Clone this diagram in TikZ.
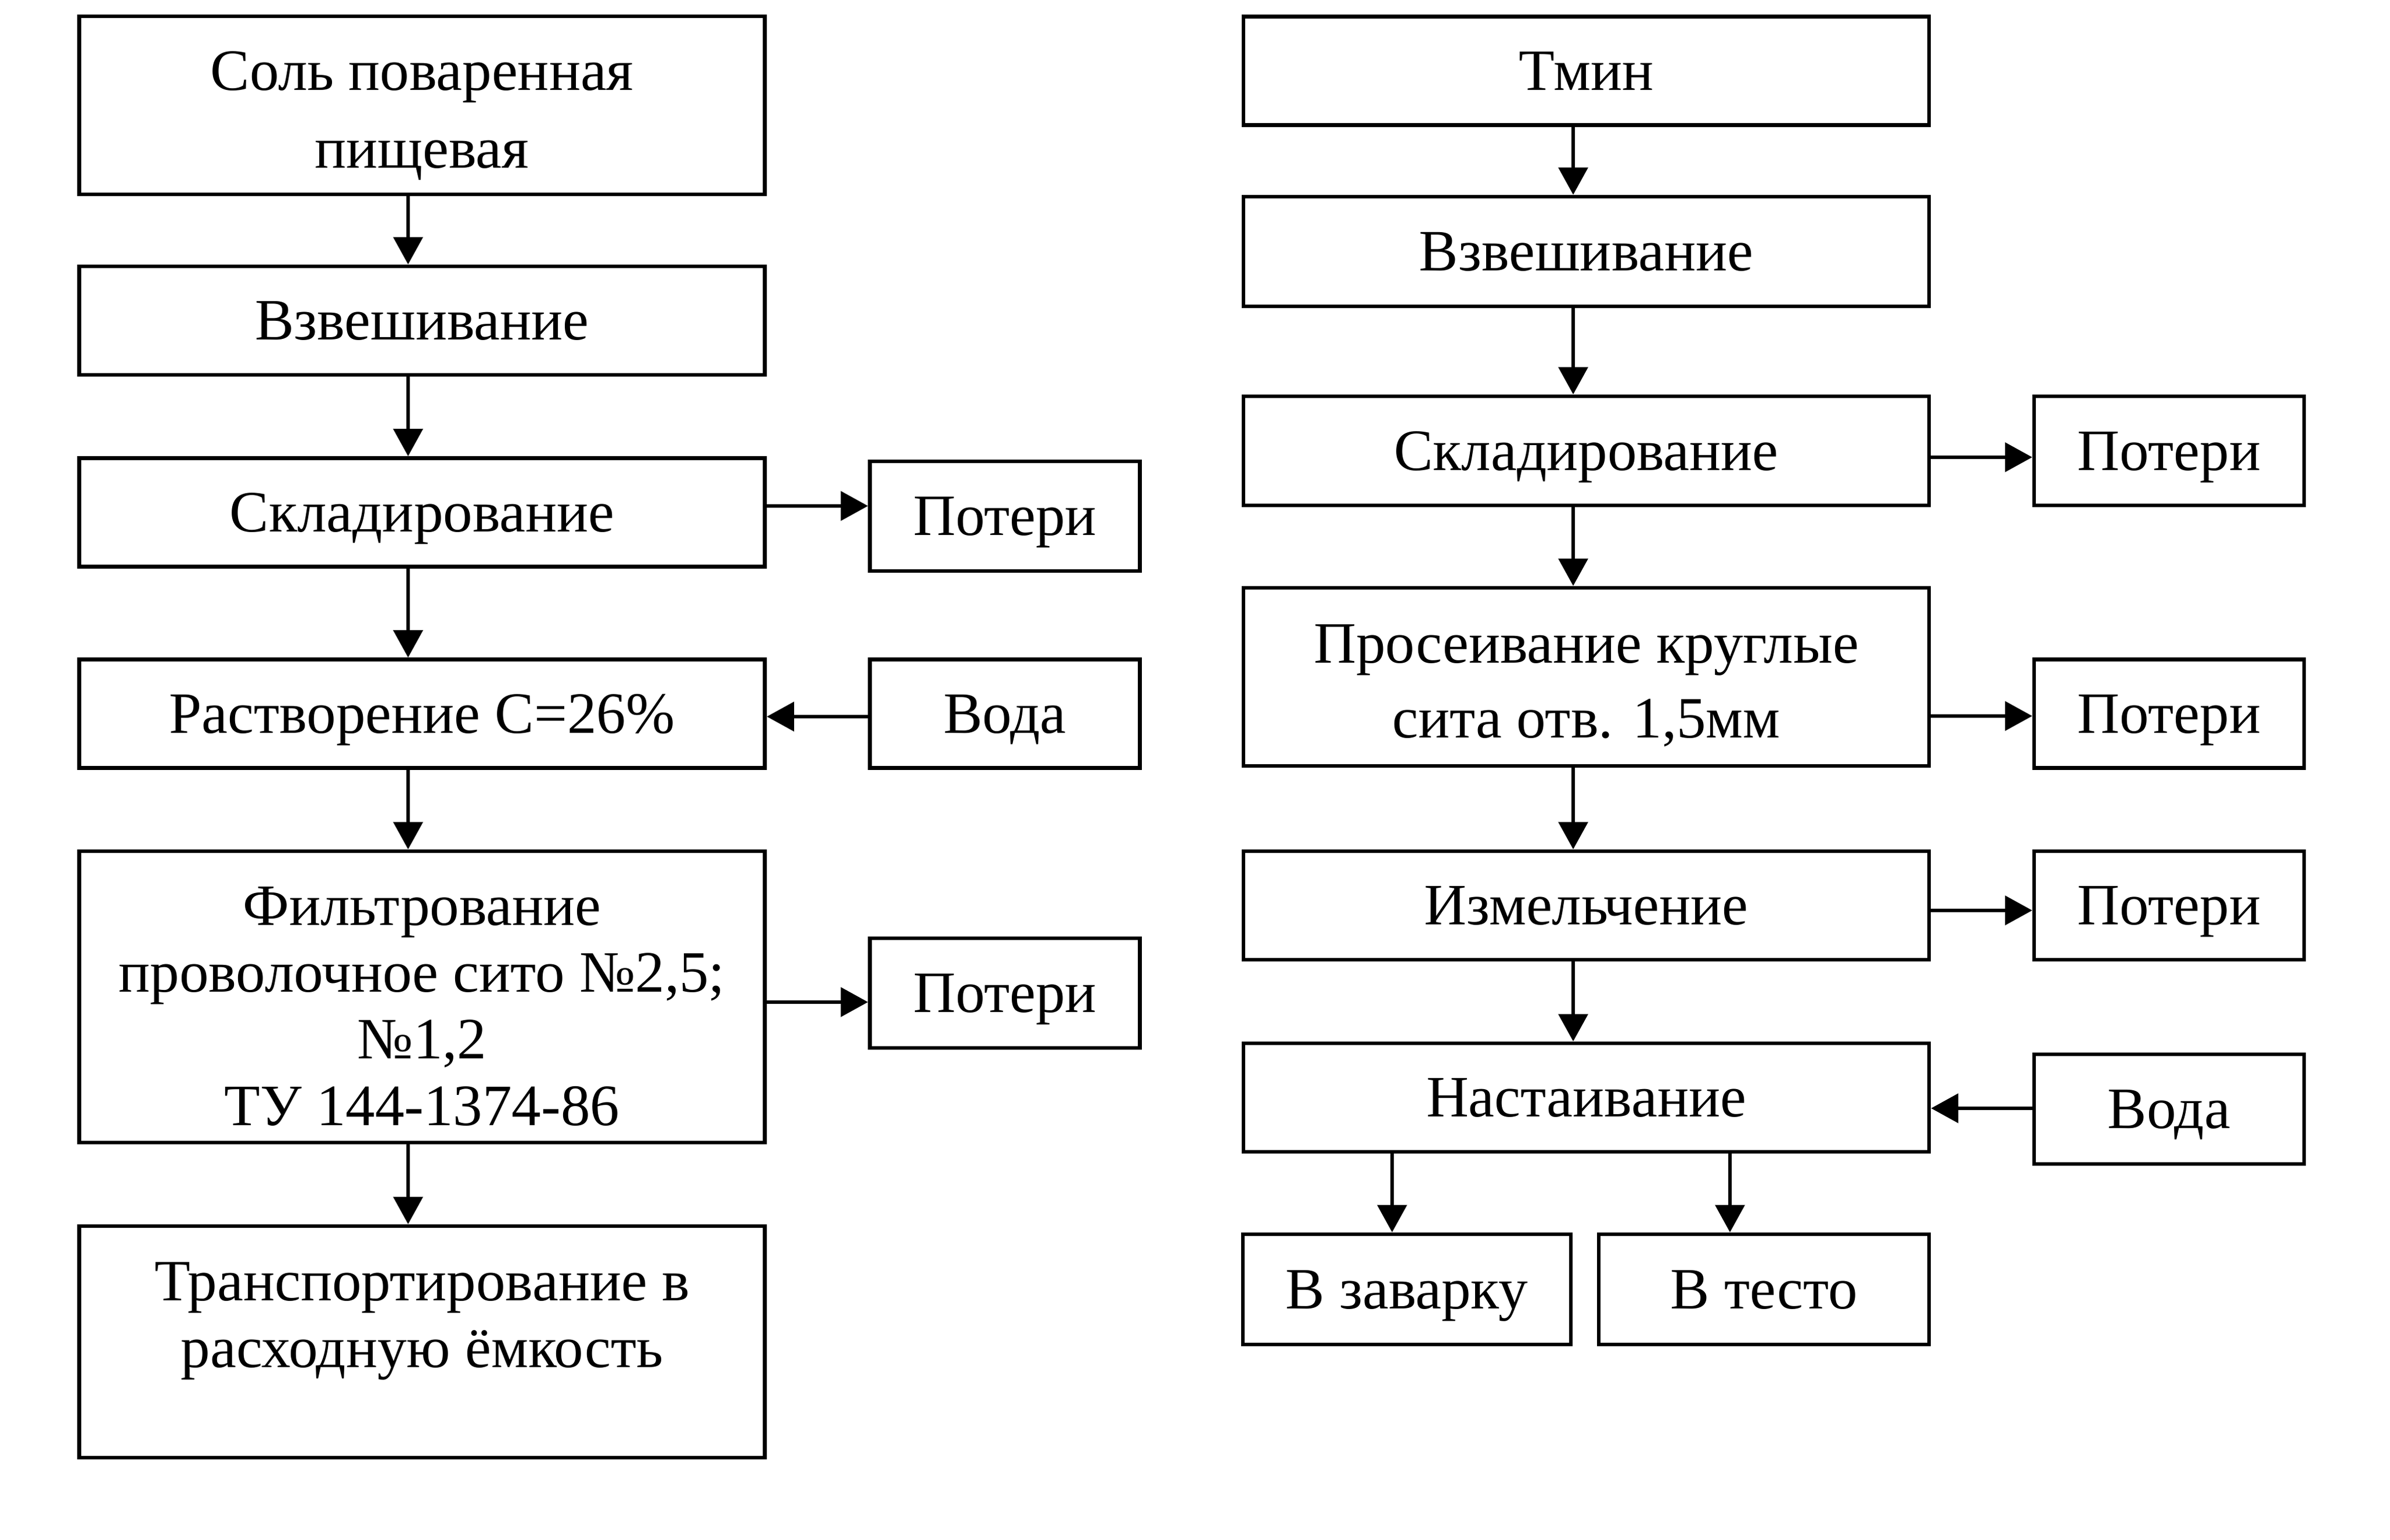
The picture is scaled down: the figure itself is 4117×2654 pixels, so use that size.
\documentclass[tikz,border=0pt]{standalone}
\usepackage{fontspec}
\setmainfont{Liberation Serif}
\usetikzlibrary{arrows.meta}
\newcommand\toprule[1]{\rule{0pt}{#1}}
\begin{document}
\begin{tikzpicture}[x=0.1pt,y=-0.1pt,
  box/.style={draw=black, line width=0.65pt, inner sep=0pt, align=center,
    minimum width=118.15pt, minimum height=18.7pt,
    font=\fontsize{10.1}{11.5}\selectfont},
  one/.style={box, text height=8pt, text depth=1.3pt},
  side/.style={one, minimum width=46.5pt},
  arr/.style={draw=black, line width=0.62pt, -{Triangle[length=4.7pt,width=5pt]}}]
\useasboundingbox (0,0) rectangle (4117,2654);
% left column
\node[box, minimum height=30.7pt, font=\fontsize{10.1}{13.4}\selectfont] (L1) at (727,181.5) {\toprule{10.4pt}Соль поваренная\\пищевая};
\node[one] (L2) at (727,552.5) {Взвешивание};
\node[one] (L3) at (727,883) {Складирование};
\node[one] (L4) at (727,1230) {Растворение С=26\%};
\node[box, minimum height=50.2pt] (L5) at (727,1718) {\toprule{9.9pt}Фильтрование\\проволочное сито №2,5;\\№1,2\\ТУ 144-1374-86};
\node[box, minimum height=39.9pt] (L6) at (727,2312.5) {\toprule{8.8pt}Транспортирование в\\расходную ёмкость\\~};
\node[side, minimum height=18.9pt] (P1) at (1731,889.5) {Потери};
\node[side] (V1) at (1731,1230) {Вода};
\node[side, minimum height=18.9pt] (P2) at (1731,1711.5) {Потери};
% right column
\node[one] (R1) at (2732.5,122) {Тмин};
\node[one, minimum height=18.9pt] (R2) at (2732.5,433.5) {Взвешивание};
\node[one, minimum height=18.8pt] (R3) at (2732.5,777) {Складирование};
\node[box, minimum height=30.7pt, font=\fontsize{10.1}{12.9}\selectfont] (R4) at (2732.5,1166.5) {\toprule{9.6pt}Просеивание круглые\\сита отв. 1,5мм};
\node[one] (R5) at (2732.5,1560.5) {Измельчение};
\node[one] (R6) at (2732.5,1891.5) {Настаивание};
\node[one, minimum width=56.5pt, minimum height=19pt] (Z) at (2423.5,2222) {В заварку};
\node[one, minimum width=56.9pt, minimum height=19pt] (T) at (3038.5,2222) {В тесто};
\node[side, minimum height=18.8pt] (RP1) at (3736.5,777) {Потери};
\node[side] (RP2) at (3736.5,1230) {Потери};
\node[side] (RP3) at (3736.5,1560.5) {Потери};
\node[side, minimum height=18.9pt] (RV) at (3736.5,1911.5) {Вода};
% guide coordinates
\coordinate (ax) at (703,0);
\coordinate (bx) at (2710,0);
\coordinate (zx) at (2398,0);
\coordinate (tx) at (2980,0);
\coordinate (h1) at (0,872);
\coordinate (h2) at (0,1235);
\coordinate (h3) at (0,1727);
\coordinate (g1) at (0,788);
\coordinate (g2) at (0,1234);
\coordinate (g3) at (0,1569);
\coordinate (g4) at (0,1910);
% left arrows
\draw[arr] (L1.south -| ax) -- (L2.north -| ax);
\draw[arr] (L2.south -| ax) -- (L3.north -| ax);
\draw[arr] (L3.south -| ax) -- (L4.north -| ax);
\draw[arr] (L4.south -| ax) -- (L5.north -| ax);
\draw[arr] (L5.south -| ax) -- (L6.north -| ax);
\draw[arr] (L3.east |- h1) -- (P1.west |- h1);
\draw[arr] (V1.west |- h2) -- (L4.east |- h2);
\draw[arr] (L5.east |- h3) -- (P2.west |- h3);
% right arrows
\draw[arr] (R1.south -| bx) -- (R2.north -| bx);
\draw[arr] (R2.south -| bx) -- (R3.north -| bx);
\draw[arr] (R3.south -| bx) -- (R4.north -| bx);
\draw[arr] (R4.south -| bx) -- (R5.north -| bx);
\draw[arr] (R5.south -| bx) -- (R6.north -| bx);
\draw[arr] (R6.south -| zx) -- (Z.north -| zx);
\draw[arr] (R6.south -| tx) -- (T.north -| tx);
\draw[arr] (R3.east |- g1) -- (RP1.west |- g1);
\draw[arr] (R4.east |- g2) -- (RP2.west |- g2);
\draw[arr] (R5.east |- g3) -- (RP3.west |- g3);
\draw[arr] (RV.west |- g4) -- (R6.east |- g4);
\end{tikzpicture}
\end{document}
